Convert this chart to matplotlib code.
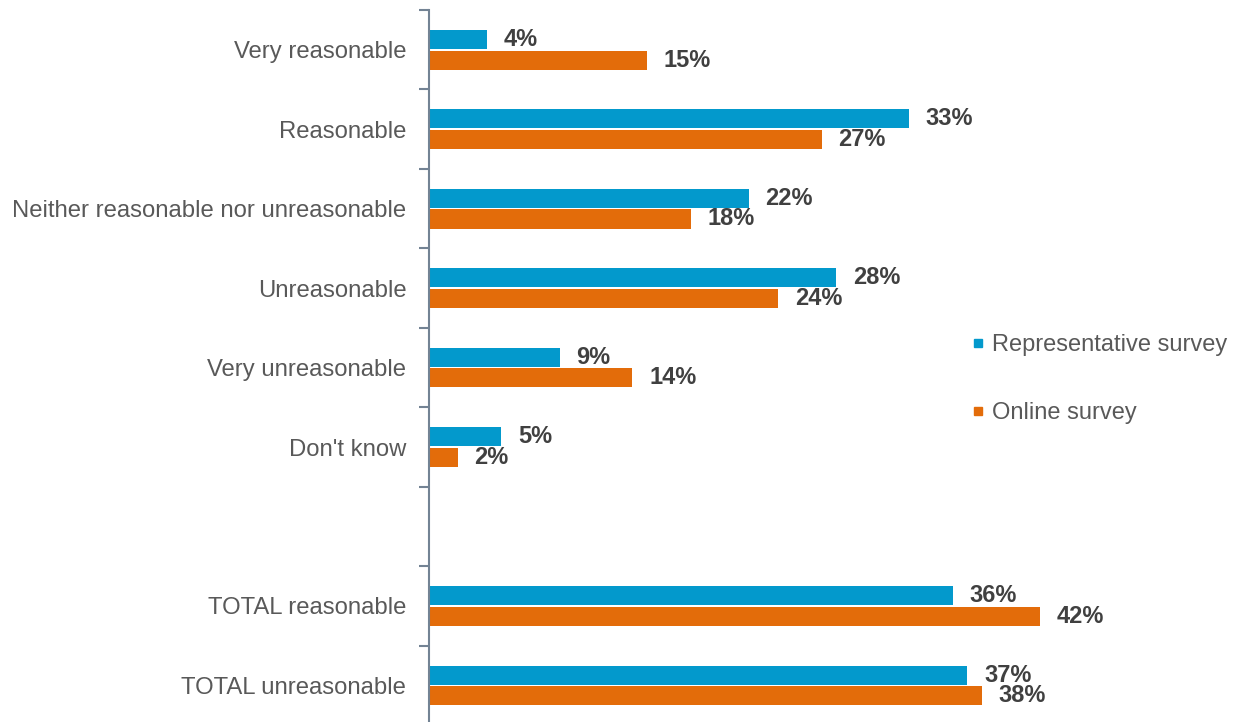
import matplotlib.pyplot as plt
from matplotlib.lines import Line2D
import numpy as np

plt.rcParams['font.family'] = ['Liberation Sans', 'DejaVu Sans']

# Survey answers, top to bottom; a blank row separates the totals
categories = ['Very reasonable', 'Reasonable', 'Neither reasonable nor unreasonable',
              'Unreasonable', 'Very unreasonable', "Don't know",
              'TOTAL reasonable', 'TOTAL unreasonable']
rows = [0, 1, 2, 3, 4, 5, 7, 8]
representative = [4, 33, 22, 28, 9, 5, 36, 37]
online = [15, 27, 18, 24, 14, 2, 42, 38]

blue = '#0399CC'
orange = '#E36C0A'
label_grey = '#595959'
value_grey = '#404040'
spine_col = '#738394'

fig = plt.figure(figsize=(12.41, 7.22), dpi=100)
ax = fig.add_axes([0.3453, -0.0043, 0.622, 0.9904])

y = np.array(rows, dtype=float)
h = 0.24
off = 0.13
b1 = ax.barh(y - off, representative, height=h, color=blue)
b2 = ax.barh(y + off, online, height=h, color=orange)

for bars, vals in ((b1, representative), (b2, online)):
    for bar, v in zip(bars, vals):
        ax.annotate(f'{v}%', (bar.get_width(), bar.get_y() + bar.get_height() / 2),
                    xytext=(12, 0), textcoords='offset points',
                    ha='left', va='center', fontsize=17, fontweight='bold',
                    color=value_grey)

ax.set_xlim(0, 53)
ax.set_ylim(8.5, -0.5)

ax.set_yticks(rows)
ax.set_yticklabels(categories, fontsize=17.2, color=label_grey)
ax.tick_params(axis='y', which='major', length=0, pad=16)
ax.set_yticks(np.arange(-0.5, 9.0, 1.0), minor=True)
ax.tick_params(axis='y', which='minor', length=7, width=1.5, color=spine_col)
ax.set_xticks([])

for s in ('top', 'right', 'bottom'):
    ax.spines[s].set_visible(False)
ax.spines['left'].set_color(spine_col)
ax.spines['left'].set_linewidth(1.5)

handles = [Line2D([], [], marker='s', linestyle='none', markersize=5.5, color=blue),
           Line2D([], [], marker='s', linestyle='none', markersize=5.5, color=orange)]
fig.legend(handles, ['Representative survey', 'Online survey'],
           loc='center left', bbox_to_anchor=(0.782, 0.475), frameon=False,
           fontsize=17, labelcolor=label_grey, handlelength=0.6,
           handletextpad=0.3, labelspacing=1.94, borderpad=0, borderaxespad=0)

fig.savefig('out.png', dpi=100)
